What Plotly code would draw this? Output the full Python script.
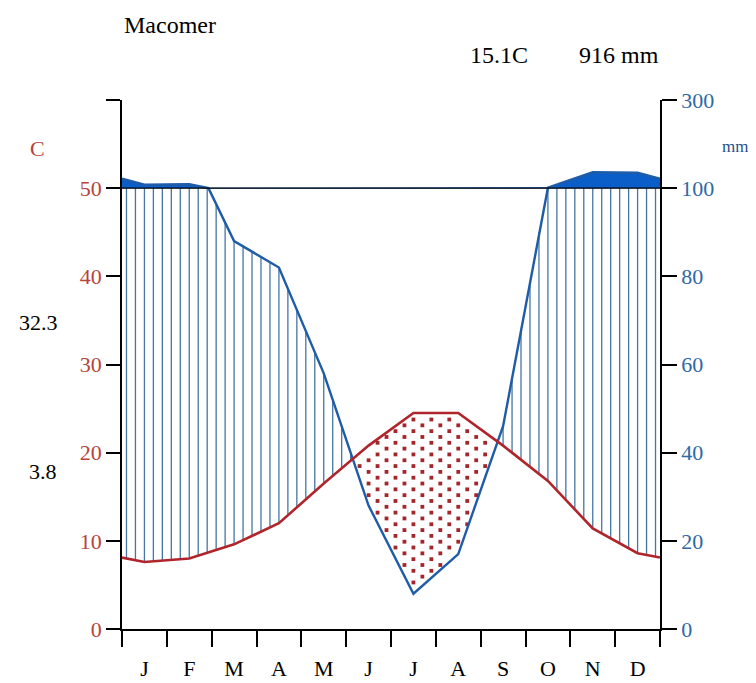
import numpy as np
import plotly.graph_objects as go

# ---------------- data ----------------
months = ["J", "F", "M", "A", "M", "J", "J", "A", "S", "O", "N", "D"]
temp_c = [7.6, 8.0, 9.6, 12.0, 16.5, 20.8, 24.5, 24.5, 20.8, 16.8, 11.4, 8.6]
precip_mm = [108, 109, 88, 82, 58, 28, 8, 17, 46, 101, 136, 135]
left_tickvals = [0, 10, 20, 30, 40, 50, 60]
left_ticktext = ["0", "10", "20", "30", "40", "50", ""]
right_ticktext = ["0", "20", "40", "60", "80", "100", "300"]
station = "Macomer"
mean_temp_label = "15.1C"
annual_precip_label = "916 mm"
max_warm_label = "32.3"
min_cold_label = "3.8"

# ---------------- helpers ----------------
RED = "#b0252b"
DOT = "#a3262c"
RED_TXT = "#b5443c"
BLUE = "#1f5ca8"
BLUE_FILL = "#0b5ec8"
BLUE_TXT = "#2f68a6"
HATCH = "#4675a3"
FONT = "Liberation Serif"


def p_scale(p):
    p = np.asarray(p, dtype=float)
    return np.where(p <= 100, p / 2.0, 50 + (p - 100) / 20.0)


xs = [0.0] + [i + 0.5 for i in range(12)] + [12.0]
t_edge = (temp_c[0] + temp_c[-1]) / 2
p_edge = (precip_mm[0] + precip_mm[-1]) / 2
t_line = [t_edge] + list(temp_c) + [t_edge]
p_line = [p_edge] + list(precip_mm) + [p_edge]

# insert crossing points with 100 mm (interpolated in mm)
px_pts, pp_pts = [xs[0]], [p_line[0]]
for i in range(1, len(xs)):
    a, b = p_line[i - 1], p_line[i]
    if (a - 100) * (b - 100) < 0:
        f = (100 - a) / (b - a)
        px_pts.append(xs[i - 1] + f * (xs[i] - xs[i - 1]))
        pp_pts.append(100.0)
    px_pts.append(xs[i])
    pp_pts.append(p_line[i])
px_pts = np.array(px_pts)
ps_pts = p_scale(pp_pts)


def p_at(x):
    return float(p_scale(np.interp(x, xs, p_line)))


def t_at(x):
    return float(np.interp(x, xs, t_line))


fig = go.Figure()

# hatch lines (humid)
hx, hy = [], []
for k in range(60):
    x = 0.1 + 0.2 * k
    t, p = t_at(x), p_at(x)
    if p > t:
        hx += [x, x, None]
        hy += [t, min(p, 50), None]
fig.add_trace(go.Scatter(x=hx, y=hy, mode="lines",
                         line=dict(color=HATCH, width=1.3),
                         hoverinfo="skip", showlegend=False))

# dots (arid)
dx, dy = [], []
for k in range(60):
    x = 0.1 + 0.2 * k
    t, p = t_at(x), p_at(x)
    if t > p:
        off = 0.66 if k % 2 else 0.0
        y = off
        while y < t:
            if p + 0.4 < y < t - 0.4:
                dx.append(x)
                dy.append(y)
            y += 1.32
fig.add_trace(go.Scatter(x=dx, y=dy, mode="markers",
                         marker=dict(symbol="square", size=3.8, color=DOT),
                         hoverinfo="skip", showlegend=False))

# solid fill above 100 mm
fig.add_trace(go.Scatter(x=px_pts, y=[50] * len(px_pts), mode="lines",
                         line=dict(width=0, color=BLUE_FILL),
                         hoverinfo="skip", showlegend=False))
fig.add_trace(go.Scatter(x=px_pts, y=np.maximum(ps_pts, 50), mode="lines",
                         line=dict(width=1, color=BLUE_FILL),
                         fill="tonexty", fillcolor=BLUE_FILL,
                         hoverinfo="skip", showlegend=False))

# precipitation line
fig.add_trace(go.Scatter(x=px_pts, y=ps_pts, mode="lines",
                         line=dict(color=BLUE, width=2.4),
                         hoverinfo="skip", showlegend=False))

# 100 mm reference line
fig.add_trace(go.Scatter(x=[0, 12], y=[50, 50], mode="lines", yaxis="y2",
                         line=dict(color="black", width=1.2),
                         hoverinfo="skip", showlegend=False))

# temperature line
fig.add_trace(go.Scatter(x=xs, y=t_line, mode="lines",
                         line=dict(color=RED, width=2.6),
                         hoverinfo="skip", showlegend=False))

axis_font = dict(family=FONT, size=22)

# page body has an 8px margin: plot area in page pixels is x 122..660, y 100..629
fig.update_layout(
    width=748, height=675,
    margin=dict(l=114, r=96, t=92, b=54, autoexpand=False),
    plot_bgcolor="white", paper_bgcolor="white",
    showlegend=False,
    xaxis=dict(range=[0, 12], showgrid=False, zeroline=False, automargin=False,
               showline=True, linecolor="black", linewidth=1.5,
               tickmode="array", tickvals=[i + 0.5 for i in range(12)],
               ticktext=months, ticks="outside", ticklen=19,
               tickcolor="rgba(0,0,0,0)",
               tickfont=dict(family=FONT, size=22, color="black"),
               minor=dict(tick0=0, dtick=1, ticks="outside", ticklen=16,
                          tickwidth=1.5, tickcolor="black", showgrid=False)),
    yaxis=dict(range=[0, 60], showgrid=False, zeroline=False, automargin=False,
               showline=True, linecolor="black", linewidth=1.5,
               tickmode="array", tickvals=left_tickvals, ticktext=left_ticktext,
               ticks="outside", ticklen=14, tickwidth=1.5, tickcolor="black",
               tickfont=dict(axis_font, color=RED_TXT)),
    yaxis2=dict(range=[0, 60], overlaying="y", side="right", anchor="x",
                showgrid=False, zeroline=False, automargin=False,
                showline=True, linecolor="black", linewidth=1.5,
                tickmode="array", tickvals=left_tickvals, ticktext=right_ticktext,
                ticks="outside", ticklen=15, tickwidth=1.5, tickcolor="black",
                tickfont=dict(axis_font, color=BLUE_TXT)),
)


def px2x(px):
    return (px - 122) / 538.0


def py2y(py):
    return (629 - py) / 529.0


ann = [
    dict(text=station, x=px2x(122), y=py2y(25), xanchor="left", yanchor="middle",
         font=dict(family=FONT, size=24, color="black")),
    dict(text=mean_temp_label, x=px2x(499), y=py2y(55), xanchor="center", yanchor="middle",
         font=dict(family=FONT, size=24, color="black")),
    dict(text=annual_precip_label, x=px2x(619), y=py2y(55), xanchor="center", yanchor="middle",
         font=dict(family=FONT, size=24, color="black")),
    dict(text="C", x=px2x(37), y=py2y(148), xanchor="center", yanchor="middle",
         font=dict(family=FONT, size=22, color=RED_TXT)),
    dict(text="mm", x=px2x(735), y=py2y(146), xanchor="center", yanchor="middle",
         font=dict(family=FONT, size=17, color="#1f4f8f")),
    dict(text=max_warm_label, x=px2x(38), y=py2y(322), xanchor="center", yanchor="middle",
         font=dict(family=FONT, size=22, color="black")),
    dict(text=min_cold_label, x=px2x(43), y=py2y(471), xanchor="center", yanchor="middle",
         font=dict(family=FONT, size=22, color="black")),
]
for a in ann:
    a.update(xref="paper", yref="paper", showarrow=False)
fig.update_layout(annotations=ann)

fig.write_html("out.html")
